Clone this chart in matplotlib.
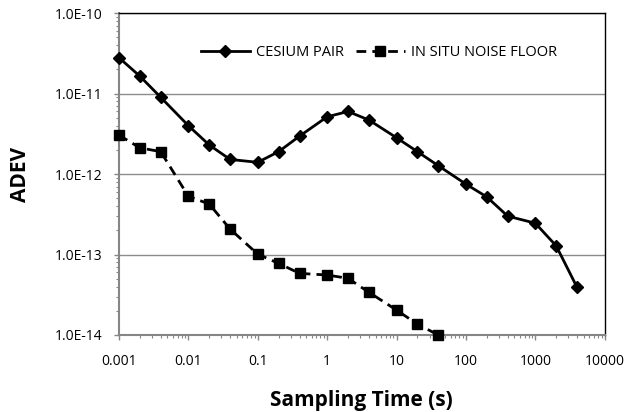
import matplotlib
matplotlib.use("Agg")
import matplotlib.pyplot as plt
from matplotlib.ticker import LogLocator, FixedLocator, FixedFormatter, NullFormatter

plt.rcParams['font.family'] = ['Open Sans', 'DejaVu Sans']

tau_cs = [0.001, 0.002, 0.004, 0.01, 0.02, 0.04, 0.1, 0.2, 0.4, 1, 2, 4, 10, 20, 40,
          100, 200, 400, 1000, 2000, 4000]
adev_cs = [2.8e-11, 1.65e-11, 9.0e-12, 4.0e-12, 2.3e-12, 1.52e-12, 1.40e-12, 1.9e-12,
           2.96e-12, 5.15e-12, 6.0e-12, 4.7e-12, 2.83e-12, 1.9e-12, 1.27e-12,
           7.5e-13, 5.2e-13, 3.0e-13, 2.45e-13, 1.28e-13, 3.9e-14]

tau_nf = [0.001, 0.002, 0.004, 0.01, 0.02, 0.04, 0.1, 0.2, 0.4, 1, 2, 4, 10, 20, 40]
adev_nf = [3.05e-12, 2.12e-12, 1.9e-12, 5.3e-13, 4.24e-13, 2.07e-13, 1.01e-13, 7.76e-14,
           5.83e-14, 5.56e-14, 5.06e-14, 3.39e-14, 2.04e-14, 1.36e-14, 1.0e-14]

x_ticks = [0.001, 0.01, 0.1, 1, 10, 100, 1000, 10000]
x_labels = ['0.001', '0.01', '0.1', '1', '10', '100', '1000', '10000']
y_ticks = [1e-14, 1e-13, 1e-12, 1e-11, 1e-10]
y_labels = ['1.0E-14', '1.0E-13', '1.0E-12', '1.0E-11', '1.0E-10']

fig = plt.figure(figsize=(6.26, 4.12), dpi=100)
ax = fig.add_axes([0.190, 0.187, 0.776, 0.781])

ax.plot(tau_cs, adev_cs, color='black', lw=2.0, marker='D', markersize=6.5,
        label='CESIUM PAIR', clip_on=False, zorder=3)
ax.plot(tau_nf, adev_nf, color='black', lw=2.0, linestyle=(0, (3.5, 2.2)), marker='s',
        markersize=6.5, label='IN SITU NOISE FLOOR', clip_on=False, zorder=3)

ax.set_xscale('log')
ax.set_yscale('log')
ax.set_xlim(0.001, 10000)
ax.set_ylim(1e-14, 1e-10)

ax.xaxis.set_major_locator(FixedLocator(x_ticks))
ax.xaxis.set_major_formatter(FixedFormatter(x_labels))
ax.xaxis.set_minor_locator(LogLocator(base=10, subs=range(2, 10), numticks=100))
ax.xaxis.set_minor_formatter(NullFormatter())
ax.yaxis.set_major_locator(FixedLocator(y_ticks))
ax.yaxis.set_major_formatter(FixedFormatter(y_labels))
ax.yaxis.set_minor_locator(LogLocator(base=10, subs=range(2, 10), numticks=100))
ax.yaxis.set_minor_formatter(NullFormatter())

ax.tick_params(which='major', direction='out', length=3.6, width=1, color='#868686',
               labelsize=10)
ax.tick_params(which='minor', direction='out', length=2.5, width=0.8, color='#868686')
ax.tick_params(axis='x', which='major', pad=10)
ax.tick_params(axis='y', which='major', pad=8)

ax.grid(axis='y', which='major', color='#8c8c8c', lw=1.0)
ax.set_axisbelow(True)

ax.spines['left'].set_color('#868686')
ax.spines['bottom'].set_color('#868686')
ax.spines['left'].set_linewidth(1.5)
ax.spines['bottom'].set_linewidth(1.5)
ax.spines['top'].set_color('black')
ax.spines['right'].set_color('black')
ax.spines['top'].set_linewidth(1.0)
ax.spines['right'].set_linewidth(1.0)

ax.set_xlabel('Sampling Time (s)', fontsize=15, fontweight='bold', va='center')
ax.xaxis.set_label_coords(0.5, -0.205)
ax.set_ylabel('ADEV', fontsize=15, fontweight='bold', va='center')
ax.yaxis.set_label_coords(-0.202, 0.5)

leg = ax.legend(loc='center', bbox_to_anchor=(0.535, 0.879), ncol=2, frameon=False,
                fontsize=10.5, handlelength=3.4, columnspacing=0.8, handletextpad=0.4,
                borderaxespad=0, borderpad=0)

fig.savefig('out.png', dpi=100)
